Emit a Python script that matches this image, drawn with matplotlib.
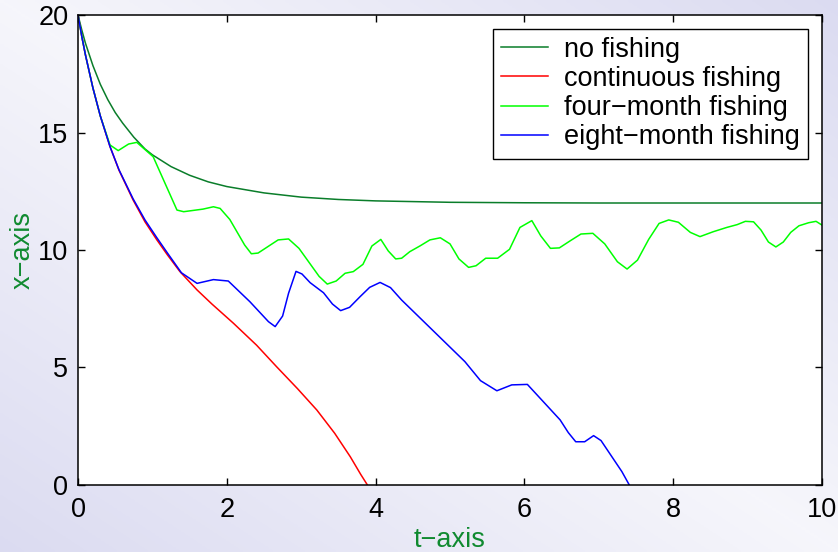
import numpy as np
import matplotlib
matplotlib.use("Agg")
import matplotlib.pyplot as plt

plt.rcParams['font.family'] = ['Liberation Sans', 'DejaVu Sans']

# population curves, read as (t, x) pairs
t_none = [0, 0.05, 0.1, 0.2, 0.3, 0.4, 0.5, 0.6, 0.75, 0.9, 1.0, 1.25, 1.5,
          1.75, 2.0, 2.5, 3.0, 3.5, 4.0, 5.0, 6.0, 7.0, 8.0, 10.0]
x_none = [20, 19.37, 18.8, 17.85, 17.05, 16.4, 15.85, 15.4, 14.8, 14.3, 14.05,
          13.55, 13.18, 12.9, 12.7, 12.43, 12.25, 12.15, 12.09, 12.03, 12.01,
          12.0, 12.0, 12.0]

t_cont = [0, 0.05, 0.1, 0.2, 0.3, 0.43, 0.55, 0.74, 0.9, 1.06, 1.2, 1.37, 1.6,
          1.8, 2.09, 2.4, 2.67, 2.95, 3.21, 3.45, 3.66, 3.8, 3.89]
x_cont = [20, 19.1, 18.3, 16.9, 15.7, 14.4, 13.4, 12.13, 11.2, 10.43, 9.8,
          9.08, 8.3, 7.7, 6.88, 5.95, 5.03, 4.1, 3.19, 2.2, 1.2, 0.45, 0.0]

t_four = [0, 0.05, 0.1, 0.2, 0.3, 0.43, 0.54, 0.68, 0.79, 1.01, 1.33, 1.42,
          1.68, 1.82, 1.91, 2.04, 2.24, 2.33, 2.42, 2.69, 2.83, 2.97, 3.24,
          3.35, 3.47, 3.59, 3.70, 3.83, 3.95, 4.07, 4.17, 4.27, 4.35, 4.46,
          4.60, 4.73, 4.87, 5.00, 5.12, 5.25, 5.35, 5.48, 5.64, 5.80, 5.94,
          6.10, 6.22, 6.35, 6.47, 6.61, 6.76, 6.92, 7.08, 7.25, 7.38, 7.52,
          7.67, 7.81, 7.94, 8.07, 8.23, 8.36, 8.54, 8.72, 8.86, 8.97, 9.08,
          9.18, 9.28, 9.38, 9.48, 9.58, 9.69, 9.82, 9.92, 10.0]
x_four = [20, 19.1, 18.3, 16.9, 15.7, 14.47, 14.23, 14.51, 14.58, 13.97,
          11.70, 11.63, 11.74, 11.84, 11.77, 11.3, 10.21, 9.84, 9.87, 10.43,
          10.47, 10.07, 8.88, 8.55, 8.68, 9.01, 9.08, 9.39, 10.17, 10.45, 9.96,
          9.62, 9.65, 9.93, 10.18, 10.43, 10.52, 10.26, 9.62, 9.26, 9.33, 9.65,
          9.65, 10.03, 10.96, 11.25, 10.6, 10.07, 10.09, 10.38, 10.68, 10.71,
          10.26, 9.50, 9.19, 9.57, 10.45, 11.13, 11.28, 11.18, 10.75, 10.57,
          10.78, 10.96, 11.08, 11.22, 11.2, 10.85, 10.34, 10.13, 10.34, 10.75,
          11.03, 11.16, 11.22, 11.06]

t_eight = [0, 0.05, 0.1, 0.2, 0.3, 0.43, 0.55, 0.74, 0.9, 1.06, 1.2, 1.39,
           1.60, 1.82, 2.02, 2.31, 2.56, 2.65, 2.75, 2.83, 2.93, 3.01, 3.12,
           3.30, 3.42, 3.53, 3.65, 3.79, 3.92, 4.06, 4.20, 4.35, 5.20, 5.41,
           5.63, 5.83, 6.04, 6.48, 6.59, 6.69, 6.81, 6.93, 7.03, 7.31, 7.41]
x_eight = [20, 19.1, 18.3, 16.9, 15.7, 14.4, 13.42, 12.18, 11.28, 10.52,
           9.88, 9.03, 8.58, 8.74, 8.68, 7.80, 6.95, 6.74, 7.19, 8.16, 9.09,
           8.98, 8.61, 8.18, 7.70, 7.42, 7.56, 8.01, 8.41, 8.62, 8.40, 7.87,
           5.25, 4.44, 4.01, 4.26, 4.28, 2.77, 2.23, 1.84, 1.84, 2.10, 1.89,
           0.57, 0.0]

labels = ['no fishing', 'continuous fishing', 'four\u2212month fishing',
          'eight\u2212month fishing']
colors = ['#0a7d2a', '#ff0000', '#00ff00', '#0000ff']
x_ticks = [0, 2, 4, 6, 8, 10]
y_ticks = [0, 5, 10, 15, 20]
label_color = '#108a30'
fs = 19.5

fig = plt.figure(figsize=(8.38, 5.52), dpi=100)

# soft lavender backdrop behind the plot
bg = fig.add_axes([0, 0, 1, 1], zorder=-10)
gx, gy = np.meshgrid(np.linspace(0, 1, 200), np.linspace(0, 1, 200))
shade = np.abs(gx - gy)
light = np.array([0.965, 0.965, 0.985])
dark = np.array([0.86, 0.86, 0.945])
img = light[None, None, :] * (1 - shade[..., None]) + dark[None, None, :] * shade[..., None]
bg.imshow(img, aspect='auto', extent=[0, 1, 0, 1], origin='upper')
bg.axis('off')

ax = fig.add_axes([0.0931, 0.1214, 0.8878, 0.8514])
ax.plot(t_none, x_none, color=colors[0], lw=1.1, label=labels[0])
ax.plot(t_cont, x_cont, color=colors[1], lw=1.1, label=labels[1])
ax.plot(t_four, x_four, color=colors[2], lw=1.1, label=labels[2])
ax.plot(t_eight, x_eight, color=colors[3], lw=1.1, label=labels[3])

ax.set_xlim(0, 10)
ax.set_ylim(0, 20)
ax.set_xticks(x_ticks)
ax.set_yticks(y_ticks)
ax.tick_params(direction='in', length=5, width=1, top=True, right=True,
               labelsize=fs)
ax.tick_params(axis='x', pad=9)
ax.tick_params(axis='y', pad=7)
for s in ax.spines.values():
    s.set_linewidth(1.1)

ax.set_xlabel('t\u2212axis', fontsize=fs, color=label_color, labelpad=2.5)
ax.set_ylabel('x\u2212axis', fontsize=fs, color=label_color, labelpad=2)

leg = ax.legend(loc='upper right', fontsize=fs, fancybox=False,
                framealpha=1, edgecolor='black', handlelength=1.75,
                handletextpad=0.6, labelspacing=0.12, borderpad=0.3,
                borderaxespad=0.5)
leg.get_frame().set_linewidth(1.0)

fig.savefig('out.png', dpi=100)
